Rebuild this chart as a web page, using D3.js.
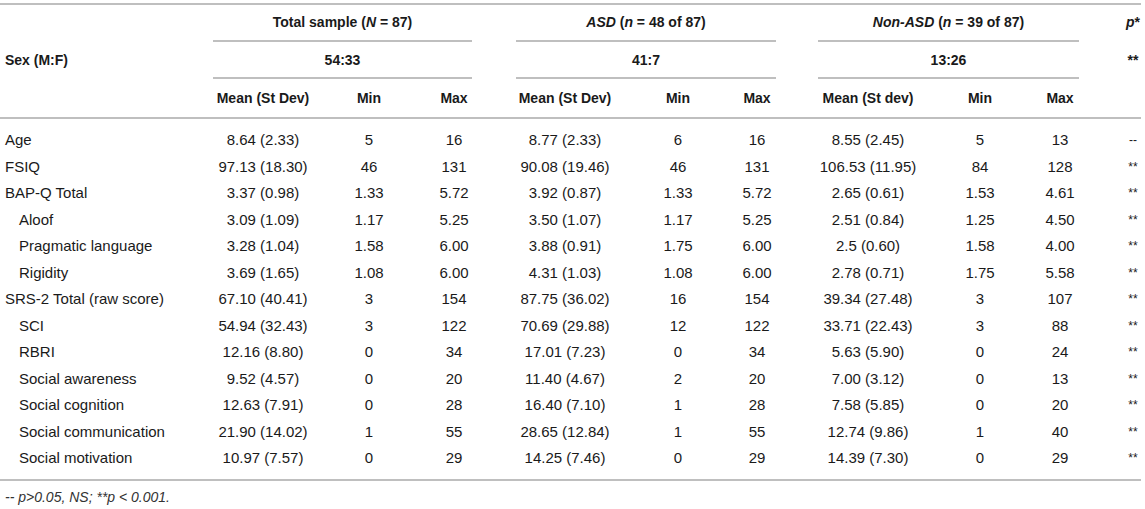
<!DOCTYPE html>
<html>
<head>
    <meta charset="utf-8">
    <title>Sample characteristics table</title>
    <script src="https://d3js.org/d3.v7.min.js"></script>
    <style>
        body { margin: 0; background: #fff; }
        text { font-family: "Liberation Sans", Arial, Helvetica, sans-serif; }
    </style>
</head>
<body>
    <div id="chart"></div>

    <script>
        // Row labels (indent 1 = subscale)
        var labels = ["Age", "FSIQ", "BAP-Q Total", "Aloof", "Pragmatic language", "Rigidity",
            "SRS-2 Total (raw score)", "SCI", "RBRI", "Social awareness", "Social cognition",
            "Social communication", "Social motivation"];
        var indent = [0, 0, 0, 1, 1, 1, 0, 1, 1, 1, 1, 1, 1];

        // Group headers and sex ratio
        var groups = ["Total sample", "ASD", "Non-ASD"];
        var groupN = ["N = 87", "n = 48 of 87", "n = 39 of 87"];
        var sexRatio = ["54:33", "41:7", "13:26"];
        var sexP = "**";
        var subHeads = [["Mean (St Dev)", "Min", "Max"], ["Mean (St Dev)", "Min", "Max"], ["Mean (St dev)", "Min", "Max"]];

        // Total sample
        var totalMean = ["8.64 (2.33)", "97.13 (18.30)", "3.37 (0.98)", "3.09 (1.09)", "3.28 (1.04)", "3.69 (1.65)",
            "67.10 (40.41)", "54.94 (32.43)", "12.16 (8.80)", "9.52 (4.57)", "12.63 (7.91)", "21.90 (14.02)", "10.97 (7.57)"];
        var totalMin = ["5", "46", "1.33", "1.17", "1.58", "1.08", "3", "3", "0", "0", "0", "1", "0"];
        var totalMax = ["16", "131", "5.72", "5.25", "6.00", "6.00", "154", "122", "34", "20", "28", "55", "29"];

        // ASD
        var asdMean = ["8.77 (2.33)", "90.08 (19.46)", "3.92 (0.87)", "3.50 (1.07)", "3.88 (0.91)", "4.31 (1.03)",
            "87.75 (36.02)", "70.69 (29.88)", "17.01 (7.23)", "11.40 (4.67)", "16.40 (7.10)", "28.65 (12.84)", "14.25 (7.46)"];
        var asdMin = ["6", "46", "1.33", "1.17", "1.75", "1.08", "16", "12", "0", "2", "1", "1", "0"];
        var asdMax = ["16", "131", "5.72", "5.25", "6.00", "6.00", "154", "122", "34", "20", "28", "55", "29"];

        // Non-ASD
        var nonMean = ["8.55 (2.45)", "106.53 (11.95)", "2.65 (0.61)", "2.51 (0.84)", "2.5 (0.60)", "2.78 (0.71)",
            "39.34 (27.48)", "33.71 (22.43)", "5.63 (5.90)", "7.00 (3.12)", "7.58 (5.85)", "12.74 (9.86)", "14.39 (7.30)"];
        var nonMin = ["5", "84", "1.53", "1.25", "1.58", "1.75", "3", "3", "0", "0", "0", "1", "0"];
        var nonMax = ["13", "128", "4.61", "4.50", "4.00", "5.58", "107", "88", "24", "13", "20", "40", "29"];

        // p values
        var pVals = ["--", "**", "**", "**", "**", "**", "**", "**", "**", "**", "**", "**", "**"];

        var columns = [totalMean, totalMin, totalMax, asdMean, asdMin, asdMax, nonMean, nonMin, nonMax, pVals];

        var width = 1145, height = 509;
        var fontSize = 15;
        var boldSize = 14;
        var textColor = "#1a1a1a";
        var ruleColor = "#aaa";

        var svg = d3.select("#chart").append("svg")
            .attr("width", width)
            .attr("height", height);

        // column centres
        var colKeys = d3.range(columns.length);
        var x = d3.scaleOrdinal()
            .domain(colKeys)
            .range([263, 369, 454, 565, 678, 757, 868, 980, 1060, 1133]);

        // group spans (for sub rules)
        var groupSpan = [[213, 472], [516, 776], [818, 1079]];

        // body rows
        var y = d3.scaleLinear().domain([0, labels.length - 1]).range([140, 458]);

        // header lines
        var headY = [22, 60, 98];
        var ruleY = { top: 4, g: 41, sex: 78, head: 118, bottom: 480 };

        function rule(x1, x2, yy) {
            svg.append("line")
                .attr("x1", x1).attr("x2", x2)
                .attr("y1", yy).attr("y2", yy)
                .attr("stroke", ruleColor)
                .attr("stroke-width", 1.5);
        }

        rule(0, 1141, ruleY.top);
        rule(0, 1141, ruleY.head);
        rule(0, 1141, ruleY.bottom);
        groupSpan.forEach(function(s) {
            rule(s[0], s[1], ruleY.g);
            rule(s[0], s[1], ruleY.sex);
        });

        // group header row
        var gh = svg.selectAll(".group-head")
            .data(groups)
            .enter()
            .append("text")
            .attr("class", "group-head")
            .attr("x", function(d, i) { return (groupSpan[i][0] + groupSpan[i][1]) / 2; })
            .attr("y", headY[0])
            .attr("dy", "0.35em")
            .attr("text-anchor", "middle")
            .attr("font-size", boldSize)
            .attr("font-weight", "bold")
            .attr("fill", textColor);

        gh.each(function(d, i) {
            var t = d3.select(this);
            var parts = groupN[i].split(" = ");
            t.append("tspan").attr("font-style", i === 0 ? "normal" : "italic").text(d + " ");
            t.append("tspan").text("(");
            t.append("tspan").attr("font-style", "italic").text(parts[0]);
            t.append("tspan").text(" = " + parts[1] + ")");
        });

        var pHead = svg.append("text")
            .attr("x", x(9))
            .attr("y", headY[0])
            .attr("dy", "0.35em")
            .attr("text-anchor", "middle")
            .attr("font-size", boldSize)
            .attr("font-weight", "bold")
            .attr("fill", textColor);
        pHead.append("tspan").attr("font-style", "italic").text("p");
        pHead.append("tspan").text("*");

        // sex row
        svg.append("text")
            .attr("x", 5)
            .attr("y", headY[1])
            .attr("dy", "0.35em")
            .attr("font-size", boldSize)
            .attr("font-weight", "bold")
            .attr("fill", textColor)
            .text("Sex (M:F)");

        svg.selectAll(".sex")
            .data(sexRatio)
            .enter()
            .append("text")
            .attr("class", "sex")
            .attr("x", function(d, i) { return (groupSpan[i][0] + groupSpan[i][1]) / 2; })
            .attr("y", headY[1])
            .attr("dy", "0.35em")
            .attr("text-anchor", "middle")
            .attr("font-size", boldSize)
            .attr("font-weight", "bold")
            .attr("fill", textColor)
            .text(function(d) { return d; });

        svg.append("text")
            .attr("x", x(9))
            .attr("y", headY[1])
            .attr("dy", "0.35em")
            .attr("text-anchor", "middle")
            .attr("font-size", boldSize)
            .attr("font-weight", "bold")
            .attr("fill", textColor)
            .text(sexP);

        // sub headers
        var subFlat = [].concat.apply([], subHeads);
        svg.selectAll(".sub-head")
            .data(subFlat)
            .enter()
            .append("text")
            .attr("class", "sub-head")
            .attr("x", function(d, i) { return x(i); })
            .attr("y", headY[2])
            .attr("dy", "0.35em")
            .attr("text-anchor", "middle")
            .attr("font-size", boldSize)
            .attr("font-weight", "bold")
            .attr("fill", textColor)
            .text(function(d) { return d; });

        // row labels
        svg.selectAll(".row-label")
            .data(labels)
            .enter()
            .append("text")
            .attr("class", "row-label")
            .attr("x", function(d, i) { return indent[i] ? 19 : 5; })
            .attr("y", function(d, i) { return y(i); })
            .attr("dy", "0.35em")
            .attr("font-size", fontSize)
            .attr("fill", textColor)
            .text(function(d) { return d; });

        // body cells
        columns.forEach(function(col, c) {
            svg.selectAll(".cell-" + c)
                .data(col)
                .enter()
                .append("text")
                .attr("class", "cell-" + c)
                .attr("x", x(c))
                .attr("y", function(d, i) { return y(i); })
                .attr("dy", "0.35em")
                .attr("text-anchor", "middle")
                .attr("font-size", c === 9 ? 12 : fontSize)
                .attr("fill", textColor)
                .text(function(d) { return d; });
        });

        // footnote
        svg.append("text")
            .attr("x", 5)
            .attr("y", 497)
            .attr("dy", "0.35em")
            .attr("font-size", 14)
            .attr("font-style", "italic")
            .attr("fill", "#333")
            .text("-- p>0.05, NS; **p < 0.001.");
    </script>
</body>
</html>
